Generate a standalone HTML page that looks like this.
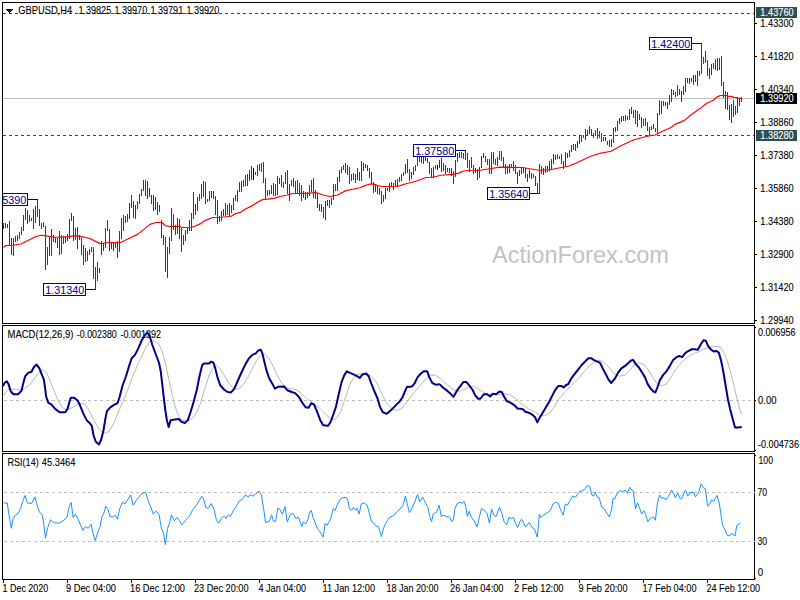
<!DOCTYPE html>
<html><head><meta charset="utf-8"><title>GBPUSD H4</title>
<style>html,body{margin:0;padding:0;background:#fff;}svg{display:block;}text{font-family:"Liberation Sans", sans-serif;}</style></head><body>
<svg width="800" height="600" viewBox="0 0 800 600">
<rect x="0" y="0" width="800" height="600" fill="#fff"/>
<text x="492" y="262.5" font-size="23.5" fill="#c2c2c2" textLength="177" lengthAdjust="spacingAndGlyphs">ActionForex.com</text>
<g shape-rendering="crispEdges" fill="#000">
<rect x="2" y="2" width="753" height="1"/>
<rect x="2" y="323" width="753" height="1"/>
<rect x="2" y="2" width="1" height="322"/>
<rect x="754" y="2" width="1" height="322"/>
<rect x="2" y="325" width="753" height="1"/>
<rect x="2" y="451" width="753" height="1"/>
<rect x="2" y="325" width="1" height="127"/>
<rect x="754" y="325" width="1" height="127"/>
<rect x="2" y="453" width="753" height="1"/>
<rect x="2" y="579" width="753" height="1"/>
<rect x="2" y="453" width="1" height="127"/>
<rect x="754" y="453" width="1" height="127"/>
<rect x="755" y="23" width="2" height="1"/>
<rect x="755" y="56" width="2" height="1"/>
<rect x="755" y="89" width="2" height="1"/>
<rect x="755" y="122" width="2" height="1"/>
<rect x="755" y="155" width="2" height="1"/>
<rect x="755" y="188" width="2" height="1"/>
<rect x="755" y="221" width="2" height="1"/>
<rect x="755" y="254" width="2" height="1"/>
<rect x="755" y="287" width="2" height="1"/>
<rect x="755" y="320" width="2" height="1"/>
<rect x="755" y="327" width="1" height="1"/>
<rect x="755" y="400" width="1" height="1"/>
<rect x="755" y="450" width="1" height="1"/>
<rect x="755" y="455" width="1" height="1"/>
<rect x="755" y="578" width="1" height="1"/>
<rect x="3" y="580" width="1" height="3"/>
<rect x="67" y="580" width="1" height="3"/>
<rect x="131" y="580" width="1" height="3"/>
<rect x="195" y="580" width="1" height="3"/>
<rect x="259" y="580" width="1" height="3"/>
<rect x="323" y="580" width="1" height="3"/>
<rect x="387" y="580" width="1" height="3"/>
<rect x="451" y="580" width="1" height="3"/>
<rect x="515" y="580" width="1" height="3"/>
<rect x="579" y="580" width="1" height="3"/>
<rect x="643" y="580" width="1" height="3"/>
<rect x="707" y="580" width="1" height="3"/>
</g>
<g shape-rendering="crispEdges">
<rect x="3" y="98" width="751" height="1" fill="#c0c0c0"/>
<rect x="3" y="13" width="3" height="1" fill="#2f4f4f"/><rect x="9" y="13" width="3" height="1" fill="#2f4f4f"/><rect x="15" y="13" width="3" height="1" fill="#2f4f4f"/><rect x="21" y="13" width="3" height="1" fill="#2f4f4f"/><rect x="27" y="13" width="3" height="1" fill="#2f4f4f"/><rect x="33" y="13" width="3" height="1" fill="#2f4f4f"/><rect x="39" y="13" width="3" height="1" fill="#2f4f4f"/><rect x="45" y="13" width="3" height="1" fill="#2f4f4f"/><rect x="51" y="13" width="3" height="1" fill="#2f4f4f"/><rect x="57" y="13" width="3" height="1" fill="#2f4f4f"/><rect x="63" y="13" width="3" height="1" fill="#2f4f4f"/><rect x="69" y="13" width="3" height="1" fill="#2f4f4f"/><rect x="75" y="13" width="3" height="1" fill="#2f4f4f"/><rect x="81" y="13" width="3" height="1" fill="#2f4f4f"/><rect x="87" y="13" width="3" height="1" fill="#2f4f4f"/><rect x="93" y="13" width="3" height="1" fill="#2f4f4f"/><rect x="99" y="13" width="3" height="1" fill="#2f4f4f"/><rect x="105" y="13" width="3" height="1" fill="#2f4f4f"/><rect x="111" y="13" width="3" height="1" fill="#2f4f4f"/><rect x="117" y="13" width="3" height="1" fill="#2f4f4f"/><rect x="123" y="13" width="3" height="1" fill="#2f4f4f"/><rect x="129" y="13" width="3" height="1" fill="#2f4f4f"/><rect x="135" y="13" width="3" height="1" fill="#2f4f4f"/><rect x="141" y="13" width="3" height="1" fill="#2f4f4f"/><rect x="147" y="13" width="3" height="1" fill="#2f4f4f"/><rect x="153" y="13" width="3" height="1" fill="#2f4f4f"/><rect x="159" y="13" width="3" height="1" fill="#2f4f4f"/><rect x="165" y="13" width="3" height="1" fill="#2f4f4f"/><rect x="171" y="13" width="3" height="1" fill="#2f4f4f"/><rect x="177" y="13" width="3" height="1" fill="#2f4f4f"/><rect x="183" y="13" width="3" height="1" fill="#2f4f4f"/><rect x="189" y="13" width="3" height="1" fill="#2f4f4f"/><rect x="195" y="13" width="3" height="1" fill="#2f4f4f"/><rect x="201" y="13" width="3" height="1" fill="#2f4f4f"/><rect x="207" y="13" width="3" height="1" fill="#2f4f4f"/><rect x="213" y="13" width="3" height="1" fill="#2f4f4f"/><rect x="219" y="13" width="3" height="1" fill="#2f4f4f"/><rect x="225" y="13" width="3" height="1" fill="#2f4f4f"/><rect x="231" y="13" width="3" height="1" fill="#2f4f4f"/><rect x="237" y="13" width="3" height="1" fill="#2f4f4f"/><rect x="243" y="13" width="3" height="1" fill="#2f4f4f"/><rect x="249" y="13" width="3" height="1" fill="#2f4f4f"/><rect x="255" y="13" width="3" height="1" fill="#2f4f4f"/><rect x="261" y="13" width="3" height="1" fill="#2f4f4f"/><rect x="267" y="13" width="3" height="1" fill="#2f4f4f"/><rect x="273" y="13" width="3" height="1" fill="#2f4f4f"/><rect x="279" y="13" width="3" height="1" fill="#2f4f4f"/><rect x="285" y="13" width="3" height="1" fill="#2f4f4f"/><rect x="291" y="13" width="3" height="1" fill="#2f4f4f"/><rect x="297" y="13" width="3" height="1" fill="#2f4f4f"/><rect x="303" y="13" width="3" height="1" fill="#2f4f4f"/><rect x="309" y="13" width="3" height="1" fill="#2f4f4f"/><rect x="315" y="13" width="3" height="1" fill="#2f4f4f"/><rect x="321" y="13" width="3" height="1" fill="#2f4f4f"/><rect x="327" y="13" width="3" height="1" fill="#2f4f4f"/><rect x="333" y="13" width="3" height="1" fill="#2f4f4f"/><rect x="339" y="13" width="3" height="1" fill="#2f4f4f"/><rect x="345" y="13" width="3" height="1" fill="#2f4f4f"/><rect x="351" y="13" width="3" height="1" fill="#2f4f4f"/><rect x="357" y="13" width="3" height="1" fill="#2f4f4f"/><rect x="363" y="13" width="3" height="1" fill="#2f4f4f"/><rect x="369" y="13" width="3" height="1" fill="#2f4f4f"/><rect x="375" y="13" width="3" height="1" fill="#2f4f4f"/><rect x="381" y="13" width="3" height="1" fill="#2f4f4f"/><rect x="387" y="13" width="3" height="1" fill="#2f4f4f"/><rect x="393" y="13" width="3" height="1" fill="#2f4f4f"/><rect x="399" y="13" width="3" height="1" fill="#2f4f4f"/><rect x="405" y="13" width="3" height="1" fill="#2f4f4f"/><rect x="411" y="13" width="3" height="1" fill="#2f4f4f"/><rect x="417" y="13" width="3" height="1" fill="#2f4f4f"/><rect x="423" y="13" width="3" height="1" fill="#2f4f4f"/><rect x="429" y="13" width="3" height="1" fill="#2f4f4f"/><rect x="435" y="13" width="3" height="1" fill="#2f4f4f"/><rect x="441" y="13" width="3" height="1" fill="#2f4f4f"/><rect x="447" y="13" width="3" height="1" fill="#2f4f4f"/><rect x="453" y="13" width="3" height="1" fill="#2f4f4f"/><rect x="459" y="13" width="3" height="1" fill="#2f4f4f"/><rect x="465" y="13" width="3" height="1" fill="#2f4f4f"/><rect x="471" y="13" width="3" height="1" fill="#2f4f4f"/><rect x="477" y="13" width="3" height="1" fill="#2f4f4f"/><rect x="483" y="13" width="3" height="1" fill="#2f4f4f"/><rect x="489" y="13" width="3" height="1" fill="#2f4f4f"/><rect x="495" y="13" width="3" height="1" fill="#2f4f4f"/><rect x="501" y="13" width="3" height="1" fill="#2f4f4f"/><rect x="507" y="13" width="3" height="1" fill="#2f4f4f"/><rect x="513" y="13" width="3" height="1" fill="#2f4f4f"/><rect x="519" y="13" width="3" height="1" fill="#2f4f4f"/><rect x="525" y="13" width="3" height="1" fill="#2f4f4f"/><rect x="531" y="13" width="3" height="1" fill="#2f4f4f"/><rect x="537" y="13" width="3" height="1" fill="#2f4f4f"/><rect x="543" y="13" width="3" height="1" fill="#2f4f4f"/><rect x="549" y="13" width="3" height="1" fill="#2f4f4f"/><rect x="555" y="13" width="3" height="1" fill="#2f4f4f"/><rect x="561" y="13" width="3" height="1" fill="#2f4f4f"/><rect x="567" y="13" width="3" height="1" fill="#2f4f4f"/><rect x="573" y="13" width="3" height="1" fill="#2f4f4f"/><rect x="579" y="13" width="3" height="1" fill="#2f4f4f"/><rect x="585" y="13" width="3" height="1" fill="#2f4f4f"/><rect x="591" y="13" width="3" height="1" fill="#2f4f4f"/><rect x="597" y="13" width="3" height="1" fill="#2f4f4f"/><rect x="603" y="13" width="3" height="1" fill="#2f4f4f"/><rect x="609" y="13" width="3" height="1" fill="#2f4f4f"/><rect x="615" y="13" width="3" height="1" fill="#2f4f4f"/><rect x="621" y="13" width="3" height="1" fill="#2f4f4f"/><rect x="627" y="13" width="3" height="1" fill="#2f4f4f"/><rect x="633" y="13" width="3" height="1" fill="#2f4f4f"/><rect x="639" y="13" width="3" height="1" fill="#2f4f4f"/><rect x="645" y="13" width="3" height="1" fill="#2f4f4f"/><rect x="651" y="13" width="3" height="1" fill="#2f4f4f"/><rect x="657" y="13" width="3" height="1" fill="#2f4f4f"/><rect x="663" y="13" width="3" height="1" fill="#2f4f4f"/><rect x="669" y="13" width="3" height="1" fill="#2f4f4f"/><rect x="675" y="13" width="3" height="1" fill="#2f4f4f"/><rect x="681" y="13" width="3" height="1" fill="#2f4f4f"/><rect x="687" y="13" width="3" height="1" fill="#2f4f4f"/><rect x="693" y="13" width="3" height="1" fill="#2f4f4f"/><rect x="699" y="13" width="3" height="1" fill="#2f4f4f"/><rect x="705" y="13" width="3" height="1" fill="#2f4f4f"/><rect x="711" y="13" width="3" height="1" fill="#2f4f4f"/><rect x="717" y="13" width="3" height="1" fill="#2f4f4f"/><rect x="723" y="13" width="3" height="1" fill="#2f4f4f"/><rect x="729" y="13" width="3" height="1" fill="#2f4f4f"/><rect x="735" y="13" width="3" height="1" fill="#2f4f4f"/><rect x="741" y="13" width="3" height="1" fill="#2f4f4f"/><rect x="747" y="13" width="3" height="1" fill="#2f4f4f"/><rect x="753" y="13" width="1" height="1" fill="#2f4f4f"/>
<rect x="3" y="135" width="3" height="1" fill="#2f4f4f"/><rect x="9" y="135" width="3" height="1" fill="#2f4f4f"/><rect x="15" y="135" width="3" height="1" fill="#2f4f4f"/><rect x="21" y="135" width="3" height="1" fill="#2f4f4f"/><rect x="27" y="135" width="3" height="1" fill="#2f4f4f"/><rect x="33" y="135" width="3" height="1" fill="#2f4f4f"/><rect x="39" y="135" width="3" height="1" fill="#2f4f4f"/><rect x="45" y="135" width="3" height="1" fill="#2f4f4f"/><rect x="51" y="135" width="3" height="1" fill="#2f4f4f"/><rect x="57" y="135" width="3" height="1" fill="#2f4f4f"/><rect x="63" y="135" width="3" height="1" fill="#2f4f4f"/><rect x="69" y="135" width="3" height="1" fill="#2f4f4f"/><rect x="75" y="135" width="3" height="1" fill="#2f4f4f"/><rect x="81" y="135" width="3" height="1" fill="#2f4f4f"/><rect x="87" y="135" width="3" height="1" fill="#2f4f4f"/><rect x="93" y="135" width="3" height="1" fill="#2f4f4f"/><rect x="99" y="135" width="3" height="1" fill="#2f4f4f"/><rect x="105" y="135" width="3" height="1" fill="#2f4f4f"/><rect x="111" y="135" width="3" height="1" fill="#2f4f4f"/><rect x="117" y="135" width="3" height="1" fill="#2f4f4f"/><rect x="123" y="135" width="3" height="1" fill="#2f4f4f"/><rect x="129" y="135" width="3" height="1" fill="#2f4f4f"/><rect x="135" y="135" width="3" height="1" fill="#2f4f4f"/><rect x="141" y="135" width="3" height="1" fill="#2f4f4f"/><rect x="147" y="135" width="3" height="1" fill="#2f4f4f"/><rect x="153" y="135" width="3" height="1" fill="#2f4f4f"/><rect x="159" y="135" width="3" height="1" fill="#2f4f4f"/><rect x="165" y="135" width="3" height="1" fill="#2f4f4f"/><rect x="171" y="135" width="3" height="1" fill="#2f4f4f"/><rect x="177" y="135" width="3" height="1" fill="#2f4f4f"/><rect x="183" y="135" width="3" height="1" fill="#2f4f4f"/><rect x="189" y="135" width="3" height="1" fill="#2f4f4f"/><rect x="195" y="135" width="3" height="1" fill="#2f4f4f"/><rect x="201" y="135" width="3" height="1" fill="#2f4f4f"/><rect x="207" y="135" width="3" height="1" fill="#2f4f4f"/><rect x="213" y="135" width="3" height="1" fill="#2f4f4f"/><rect x="219" y="135" width="3" height="1" fill="#2f4f4f"/><rect x="225" y="135" width="3" height="1" fill="#2f4f4f"/><rect x="231" y="135" width="3" height="1" fill="#2f4f4f"/><rect x="237" y="135" width="3" height="1" fill="#2f4f4f"/><rect x="243" y="135" width="3" height="1" fill="#2f4f4f"/><rect x="249" y="135" width="3" height="1" fill="#2f4f4f"/><rect x="255" y="135" width="3" height="1" fill="#2f4f4f"/><rect x="261" y="135" width="3" height="1" fill="#2f4f4f"/><rect x="267" y="135" width="3" height="1" fill="#2f4f4f"/><rect x="273" y="135" width="3" height="1" fill="#2f4f4f"/><rect x="279" y="135" width="3" height="1" fill="#2f4f4f"/><rect x="285" y="135" width="3" height="1" fill="#2f4f4f"/><rect x="291" y="135" width="3" height="1" fill="#2f4f4f"/><rect x="297" y="135" width="3" height="1" fill="#2f4f4f"/><rect x="303" y="135" width="3" height="1" fill="#2f4f4f"/><rect x="309" y="135" width="3" height="1" fill="#2f4f4f"/><rect x="315" y="135" width="3" height="1" fill="#2f4f4f"/><rect x="321" y="135" width="3" height="1" fill="#2f4f4f"/><rect x="327" y="135" width="3" height="1" fill="#2f4f4f"/><rect x="333" y="135" width="3" height="1" fill="#2f4f4f"/><rect x="339" y="135" width="3" height="1" fill="#2f4f4f"/><rect x="345" y="135" width="3" height="1" fill="#2f4f4f"/><rect x="351" y="135" width="3" height="1" fill="#2f4f4f"/><rect x="357" y="135" width="3" height="1" fill="#2f4f4f"/><rect x="363" y="135" width="3" height="1" fill="#2f4f4f"/><rect x="369" y="135" width="3" height="1" fill="#2f4f4f"/><rect x="375" y="135" width="3" height="1" fill="#2f4f4f"/><rect x="381" y="135" width="3" height="1" fill="#2f4f4f"/><rect x="387" y="135" width="3" height="1" fill="#2f4f4f"/><rect x="393" y="135" width="3" height="1" fill="#2f4f4f"/><rect x="399" y="135" width="3" height="1" fill="#2f4f4f"/><rect x="405" y="135" width="3" height="1" fill="#2f4f4f"/><rect x="411" y="135" width="3" height="1" fill="#2f4f4f"/><rect x="417" y="135" width="3" height="1" fill="#2f4f4f"/><rect x="423" y="135" width="3" height="1" fill="#2f4f4f"/><rect x="429" y="135" width="3" height="1" fill="#2f4f4f"/><rect x="435" y="135" width="3" height="1" fill="#2f4f4f"/><rect x="441" y="135" width="3" height="1" fill="#2f4f4f"/><rect x="447" y="135" width="3" height="1" fill="#2f4f4f"/><rect x="453" y="135" width="3" height="1" fill="#2f4f4f"/><rect x="459" y="135" width="3" height="1" fill="#2f4f4f"/><rect x="465" y="135" width="3" height="1" fill="#2f4f4f"/><rect x="471" y="135" width="3" height="1" fill="#2f4f4f"/><rect x="477" y="135" width="3" height="1" fill="#2f4f4f"/><rect x="483" y="135" width="3" height="1" fill="#2f4f4f"/><rect x="489" y="135" width="3" height="1" fill="#2f4f4f"/><rect x="495" y="135" width="3" height="1" fill="#2f4f4f"/><rect x="501" y="135" width="3" height="1" fill="#2f4f4f"/><rect x="507" y="135" width="3" height="1" fill="#2f4f4f"/><rect x="513" y="135" width="3" height="1" fill="#2f4f4f"/><rect x="519" y="135" width="3" height="1" fill="#2f4f4f"/><rect x="525" y="135" width="3" height="1" fill="#2f4f4f"/><rect x="531" y="135" width="3" height="1" fill="#2f4f4f"/><rect x="537" y="135" width="3" height="1" fill="#2f4f4f"/><rect x="543" y="135" width="3" height="1" fill="#2f4f4f"/><rect x="549" y="135" width="3" height="1" fill="#2f4f4f"/><rect x="555" y="135" width="3" height="1" fill="#2f4f4f"/><rect x="561" y="135" width="3" height="1" fill="#2f4f4f"/><rect x="567" y="135" width="3" height="1" fill="#2f4f4f"/><rect x="573" y="135" width="3" height="1" fill="#2f4f4f"/><rect x="579" y="135" width="3" height="1" fill="#2f4f4f"/><rect x="585" y="135" width="3" height="1" fill="#2f4f4f"/><rect x="591" y="135" width="3" height="1" fill="#2f4f4f"/><rect x="597" y="135" width="3" height="1" fill="#2f4f4f"/><rect x="603" y="135" width="3" height="1" fill="#2f4f4f"/><rect x="609" y="135" width="3" height="1" fill="#2f4f4f"/><rect x="615" y="135" width="3" height="1" fill="#2f4f4f"/><rect x="621" y="135" width="3" height="1" fill="#2f4f4f"/><rect x="627" y="135" width="3" height="1" fill="#2f4f4f"/><rect x="633" y="135" width="3" height="1" fill="#2f4f4f"/><rect x="639" y="135" width="3" height="1" fill="#2f4f4f"/><rect x="645" y="135" width="3" height="1" fill="#2f4f4f"/><rect x="651" y="135" width="3" height="1" fill="#2f4f4f"/><rect x="657" y="135" width="3" height="1" fill="#2f4f4f"/><rect x="663" y="135" width="3" height="1" fill="#2f4f4f"/><rect x="669" y="135" width="3" height="1" fill="#2f4f4f"/><rect x="675" y="135" width="3" height="1" fill="#2f4f4f"/><rect x="681" y="135" width="3" height="1" fill="#2f4f4f"/><rect x="687" y="135" width="3" height="1" fill="#2f4f4f"/><rect x="693" y="135" width="3" height="1" fill="#2f4f4f"/><rect x="699" y="135" width="3" height="1" fill="#2f4f4f"/><rect x="705" y="135" width="3" height="1" fill="#2f4f4f"/><rect x="711" y="135" width="3" height="1" fill="#2f4f4f"/><rect x="717" y="135" width="3" height="1" fill="#2f4f4f"/><rect x="723" y="135" width="3" height="1" fill="#2f4f4f"/><rect x="729" y="135" width="3" height="1" fill="#2f4f4f"/><rect x="735" y="135" width="3" height="1" fill="#2f4f4f"/><rect x="741" y="135" width="3" height="1" fill="#2f4f4f"/><rect x="747" y="135" width="3" height="1" fill="#2f4f4f"/><rect x="753" y="135" width="1" height="1" fill="#2f4f4f"/>
<rect x="4" y="400" width="3" height="1" fill="#c0c0c0"/><rect x="10" y="400" width="3" height="1" fill="#c0c0c0"/><rect x="16" y="400" width="3" height="1" fill="#c0c0c0"/><rect x="22" y="400" width="3" height="1" fill="#c0c0c0"/><rect x="28" y="400" width="3" height="1" fill="#c0c0c0"/><rect x="34" y="400" width="3" height="1" fill="#c0c0c0"/><rect x="40" y="400" width="3" height="1" fill="#c0c0c0"/><rect x="46" y="400" width="3" height="1" fill="#c0c0c0"/><rect x="52" y="400" width="3" height="1" fill="#c0c0c0"/><rect x="58" y="400" width="3" height="1" fill="#c0c0c0"/><rect x="64" y="400" width="3" height="1" fill="#c0c0c0"/><rect x="70" y="400" width="3" height="1" fill="#c0c0c0"/><rect x="76" y="400" width="3" height="1" fill="#c0c0c0"/><rect x="82" y="400" width="3" height="1" fill="#c0c0c0"/><rect x="88" y="400" width="3" height="1" fill="#c0c0c0"/><rect x="94" y="400" width="3" height="1" fill="#c0c0c0"/><rect x="100" y="400" width="3" height="1" fill="#c0c0c0"/><rect x="106" y="400" width="3" height="1" fill="#c0c0c0"/><rect x="112" y="400" width="3" height="1" fill="#c0c0c0"/><rect x="118" y="400" width="3" height="1" fill="#c0c0c0"/><rect x="124" y="400" width="3" height="1" fill="#c0c0c0"/><rect x="130" y="400" width="3" height="1" fill="#c0c0c0"/><rect x="136" y="400" width="3" height="1" fill="#c0c0c0"/><rect x="142" y="400" width="3" height="1" fill="#c0c0c0"/><rect x="148" y="400" width="3" height="1" fill="#c0c0c0"/><rect x="154" y="400" width="3" height="1" fill="#c0c0c0"/><rect x="160" y="400" width="3" height="1" fill="#c0c0c0"/><rect x="166" y="400" width="3" height="1" fill="#c0c0c0"/><rect x="172" y="400" width="3" height="1" fill="#c0c0c0"/><rect x="178" y="400" width="3" height="1" fill="#c0c0c0"/><rect x="184" y="400" width="3" height="1" fill="#c0c0c0"/><rect x="190" y="400" width="3" height="1" fill="#c0c0c0"/><rect x="196" y="400" width="3" height="1" fill="#c0c0c0"/><rect x="202" y="400" width="3" height="1" fill="#c0c0c0"/><rect x="208" y="400" width="3" height="1" fill="#c0c0c0"/><rect x="214" y="400" width="3" height="1" fill="#c0c0c0"/><rect x="220" y="400" width="3" height="1" fill="#c0c0c0"/><rect x="226" y="400" width="3" height="1" fill="#c0c0c0"/><rect x="232" y="400" width="3" height="1" fill="#c0c0c0"/><rect x="238" y="400" width="3" height="1" fill="#c0c0c0"/><rect x="244" y="400" width="3" height="1" fill="#c0c0c0"/><rect x="250" y="400" width="3" height="1" fill="#c0c0c0"/><rect x="256" y="400" width="3" height="1" fill="#c0c0c0"/><rect x="262" y="400" width="3" height="1" fill="#c0c0c0"/><rect x="268" y="400" width="3" height="1" fill="#c0c0c0"/><rect x="274" y="400" width="3" height="1" fill="#c0c0c0"/><rect x="280" y="400" width="3" height="1" fill="#c0c0c0"/><rect x="286" y="400" width="3" height="1" fill="#c0c0c0"/><rect x="292" y="400" width="3" height="1" fill="#c0c0c0"/><rect x="298" y="400" width="3" height="1" fill="#c0c0c0"/><rect x="304" y="400" width="3" height="1" fill="#c0c0c0"/><rect x="310" y="400" width="3" height="1" fill="#c0c0c0"/><rect x="316" y="400" width="3" height="1" fill="#c0c0c0"/><rect x="322" y="400" width="3" height="1" fill="#c0c0c0"/><rect x="328" y="400" width="3" height="1" fill="#c0c0c0"/><rect x="334" y="400" width="3" height="1" fill="#c0c0c0"/><rect x="340" y="400" width="3" height="1" fill="#c0c0c0"/><rect x="346" y="400" width="3" height="1" fill="#c0c0c0"/><rect x="352" y="400" width="3" height="1" fill="#c0c0c0"/><rect x="358" y="400" width="3" height="1" fill="#c0c0c0"/><rect x="364" y="400" width="3" height="1" fill="#c0c0c0"/><rect x="370" y="400" width="3" height="1" fill="#c0c0c0"/><rect x="376" y="400" width="3" height="1" fill="#c0c0c0"/><rect x="382" y="400" width="3" height="1" fill="#c0c0c0"/><rect x="388" y="400" width="3" height="1" fill="#c0c0c0"/><rect x="394" y="400" width="3" height="1" fill="#c0c0c0"/><rect x="400" y="400" width="3" height="1" fill="#c0c0c0"/><rect x="406" y="400" width="3" height="1" fill="#c0c0c0"/><rect x="412" y="400" width="3" height="1" fill="#c0c0c0"/><rect x="418" y="400" width="3" height="1" fill="#c0c0c0"/><rect x="424" y="400" width="3" height="1" fill="#c0c0c0"/><rect x="430" y="400" width="3" height="1" fill="#c0c0c0"/><rect x="436" y="400" width="3" height="1" fill="#c0c0c0"/><rect x="442" y="400" width="3" height="1" fill="#c0c0c0"/><rect x="448" y="400" width="3" height="1" fill="#c0c0c0"/><rect x="454" y="400" width="3" height="1" fill="#c0c0c0"/><rect x="460" y="400" width="3" height="1" fill="#c0c0c0"/><rect x="466" y="400" width="3" height="1" fill="#c0c0c0"/><rect x="472" y="400" width="3" height="1" fill="#c0c0c0"/><rect x="478" y="400" width="3" height="1" fill="#c0c0c0"/><rect x="484" y="400" width="3" height="1" fill="#c0c0c0"/><rect x="490" y="400" width="3" height="1" fill="#c0c0c0"/><rect x="496" y="400" width="3" height="1" fill="#c0c0c0"/><rect x="502" y="400" width="3" height="1" fill="#c0c0c0"/><rect x="508" y="400" width="3" height="1" fill="#c0c0c0"/><rect x="514" y="400" width="3" height="1" fill="#c0c0c0"/><rect x="520" y="400" width="3" height="1" fill="#c0c0c0"/><rect x="526" y="400" width="3" height="1" fill="#c0c0c0"/><rect x="532" y="400" width="3" height="1" fill="#c0c0c0"/><rect x="538" y="400" width="3" height="1" fill="#c0c0c0"/><rect x="544" y="400" width="3" height="1" fill="#c0c0c0"/><rect x="550" y="400" width="3" height="1" fill="#c0c0c0"/><rect x="556" y="400" width="3" height="1" fill="#c0c0c0"/><rect x="562" y="400" width="3" height="1" fill="#c0c0c0"/><rect x="568" y="400" width="3" height="1" fill="#c0c0c0"/><rect x="574" y="400" width="3" height="1" fill="#c0c0c0"/><rect x="580" y="400" width="3" height="1" fill="#c0c0c0"/><rect x="586" y="400" width="3" height="1" fill="#c0c0c0"/><rect x="592" y="400" width="3" height="1" fill="#c0c0c0"/><rect x="598" y="400" width="3" height="1" fill="#c0c0c0"/><rect x="604" y="400" width="3" height="1" fill="#c0c0c0"/><rect x="610" y="400" width="3" height="1" fill="#c0c0c0"/><rect x="616" y="400" width="3" height="1" fill="#c0c0c0"/><rect x="622" y="400" width="3" height="1" fill="#c0c0c0"/><rect x="628" y="400" width="3" height="1" fill="#c0c0c0"/><rect x="634" y="400" width="3" height="1" fill="#c0c0c0"/><rect x="640" y="400" width="3" height="1" fill="#c0c0c0"/><rect x="646" y="400" width="3" height="1" fill="#c0c0c0"/><rect x="652" y="400" width="3" height="1" fill="#c0c0c0"/><rect x="658" y="400" width="3" height="1" fill="#c0c0c0"/><rect x="664" y="400" width="3" height="1" fill="#c0c0c0"/><rect x="670" y="400" width="3" height="1" fill="#c0c0c0"/><rect x="676" y="400" width="3" height="1" fill="#c0c0c0"/><rect x="682" y="400" width="3" height="1" fill="#c0c0c0"/><rect x="688" y="400" width="3" height="1" fill="#c0c0c0"/><rect x="694" y="400" width="3" height="1" fill="#c0c0c0"/><rect x="700" y="400" width="3" height="1" fill="#c0c0c0"/><rect x="706" y="400" width="3" height="1" fill="#c0c0c0"/><rect x="712" y="400" width="3" height="1" fill="#c0c0c0"/><rect x="718" y="400" width="3" height="1" fill="#c0c0c0"/><rect x="724" y="400" width="3" height="1" fill="#c0c0c0"/><rect x="730" y="400" width="3" height="1" fill="#c0c0c0"/><rect x="736" y="400" width="3" height="1" fill="#c0c0c0"/><rect x="742" y="400" width="3" height="1" fill="#c0c0c0"/><rect x="748" y="400" width="3" height="1" fill="#c0c0c0"/>
<rect x="4" y="492" width="3" height="1" fill="#c0c0c0"/><rect x="10" y="492" width="3" height="1" fill="#c0c0c0"/><rect x="16" y="492" width="3" height="1" fill="#c0c0c0"/><rect x="22" y="492" width="3" height="1" fill="#c0c0c0"/><rect x="28" y="492" width="3" height="1" fill="#c0c0c0"/><rect x="34" y="492" width="3" height="1" fill="#c0c0c0"/><rect x="40" y="492" width="3" height="1" fill="#c0c0c0"/><rect x="46" y="492" width="3" height="1" fill="#c0c0c0"/><rect x="52" y="492" width="3" height="1" fill="#c0c0c0"/><rect x="58" y="492" width="3" height="1" fill="#c0c0c0"/><rect x="64" y="492" width="3" height="1" fill="#c0c0c0"/><rect x="70" y="492" width="3" height="1" fill="#c0c0c0"/><rect x="76" y="492" width="3" height="1" fill="#c0c0c0"/><rect x="82" y="492" width="3" height="1" fill="#c0c0c0"/><rect x="88" y="492" width="3" height="1" fill="#c0c0c0"/><rect x="94" y="492" width="3" height="1" fill="#c0c0c0"/><rect x="100" y="492" width="3" height="1" fill="#c0c0c0"/><rect x="106" y="492" width="3" height="1" fill="#c0c0c0"/><rect x="112" y="492" width="3" height="1" fill="#c0c0c0"/><rect x="118" y="492" width="3" height="1" fill="#c0c0c0"/><rect x="124" y="492" width="3" height="1" fill="#c0c0c0"/><rect x="130" y="492" width="3" height="1" fill="#c0c0c0"/><rect x="136" y="492" width="3" height="1" fill="#c0c0c0"/><rect x="142" y="492" width="3" height="1" fill="#c0c0c0"/><rect x="148" y="492" width="3" height="1" fill="#c0c0c0"/><rect x="154" y="492" width="3" height="1" fill="#c0c0c0"/><rect x="160" y="492" width="3" height="1" fill="#c0c0c0"/><rect x="166" y="492" width="3" height="1" fill="#c0c0c0"/><rect x="172" y="492" width="3" height="1" fill="#c0c0c0"/><rect x="178" y="492" width="3" height="1" fill="#c0c0c0"/><rect x="184" y="492" width="3" height="1" fill="#c0c0c0"/><rect x="190" y="492" width="3" height="1" fill="#c0c0c0"/><rect x="196" y="492" width="3" height="1" fill="#c0c0c0"/><rect x="202" y="492" width="3" height="1" fill="#c0c0c0"/><rect x="208" y="492" width="3" height="1" fill="#c0c0c0"/><rect x="214" y="492" width="3" height="1" fill="#c0c0c0"/><rect x="220" y="492" width="3" height="1" fill="#c0c0c0"/><rect x="226" y="492" width="3" height="1" fill="#c0c0c0"/><rect x="232" y="492" width="3" height="1" fill="#c0c0c0"/><rect x="238" y="492" width="3" height="1" fill="#c0c0c0"/><rect x="244" y="492" width="3" height="1" fill="#c0c0c0"/><rect x="250" y="492" width="3" height="1" fill="#c0c0c0"/><rect x="256" y="492" width="3" height="1" fill="#c0c0c0"/><rect x="262" y="492" width="3" height="1" fill="#c0c0c0"/><rect x="268" y="492" width="3" height="1" fill="#c0c0c0"/><rect x="274" y="492" width="3" height="1" fill="#c0c0c0"/><rect x="280" y="492" width="3" height="1" fill="#c0c0c0"/><rect x="286" y="492" width="3" height="1" fill="#c0c0c0"/><rect x="292" y="492" width="3" height="1" fill="#c0c0c0"/><rect x="298" y="492" width="3" height="1" fill="#c0c0c0"/><rect x="304" y="492" width="3" height="1" fill="#c0c0c0"/><rect x="310" y="492" width="3" height="1" fill="#c0c0c0"/><rect x="316" y="492" width="3" height="1" fill="#c0c0c0"/><rect x="322" y="492" width="3" height="1" fill="#c0c0c0"/><rect x="328" y="492" width="3" height="1" fill="#c0c0c0"/><rect x="334" y="492" width="3" height="1" fill="#c0c0c0"/><rect x="340" y="492" width="3" height="1" fill="#c0c0c0"/><rect x="346" y="492" width="3" height="1" fill="#c0c0c0"/><rect x="352" y="492" width="3" height="1" fill="#c0c0c0"/><rect x="358" y="492" width="3" height="1" fill="#c0c0c0"/><rect x="364" y="492" width="3" height="1" fill="#c0c0c0"/><rect x="370" y="492" width="3" height="1" fill="#c0c0c0"/><rect x="376" y="492" width="3" height="1" fill="#c0c0c0"/><rect x="382" y="492" width="3" height="1" fill="#c0c0c0"/><rect x="388" y="492" width="3" height="1" fill="#c0c0c0"/><rect x="394" y="492" width="3" height="1" fill="#c0c0c0"/><rect x="400" y="492" width="3" height="1" fill="#c0c0c0"/><rect x="406" y="492" width="3" height="1" fill="#c0c0c0"/><rect x="412" y="492" width="3" height="1" fill="#c0c0c0"/><rect x="418" y="492" width="3" height="1" fill="#c0c0c0"/><rect x="424" y="492" width="3" height="1" fill="#c0c0c0"/><rect x="430" y="492" width="3" height="1" fill="#c0c0c0"/><rect x="436" y="492" width="3" height="1" fill="#c0c0c0"/><rect x="442" y="492" width="3" height="1" fill="#c0c0c0"/><rect x="448" y="492" width="3" height="1" fill="#c0c0c0"/><rect x="454" y="492" width="3" height="1" fill="#c0c0c0"/><rect x="460" y="492" width="3" height="1" fill="#c0c0c0"/><rect x="466" y="492" width="3" height="1" fill="#c0c0c0"/><rect x="472" y="492" width="3" height="1" fill="#c0c0c0"/><rect x="478" y="492" width="3" height="1" fill="#c0c0c0"/><rect x="484" y="492" width="3" height="1" fill="#c0c0c0"/><rect x="490" y="492" width="3" height="1" fill="#c0c0c0"/><rect x="496" y="492" width="3" height="1" fill="#c0c0c0"/><rect x="502" y="492" width="3" height="1" fill="#c0c0c0"/><rect x="508" y="492" width="3" height="1" fill="#c0c0c0"/><rect x="514" y="492" width="3" height="1" fill="#c0c0c0"/><rect x="520" y="492" width="3" height="1" fill="#c0c0c0"/><rect x="526" y="492" width="3" height="1" fill="#c0c0c0"/><rect x="532" y="492" width="3" height="1" fill="#c0c0c0"/><rect x="538" y="492" width="3" height="1" fill="#c0c0c0"/><rect x="544" y="492" width="3" height="1" fill="#c0c0c0"/><rect x="550" y="492" width="3" height="1" fill="#c0c0c0"/><rect x="556" y="492" width="3" height="1" fill="#c0c0c0"/><rect x="562" y="492" width="3" height="1" fill="#c0c0c0"/><rect x="568" y="492" width="3" height="1" fill="#c0c0c0"/><rect x="574" y="492" width="3" height="1" fill="#c0c0c0"/><rect x="580" y="492" width="3" height="1" fill="#c0c0c0"/><rect x="586" y="492" width="3" height="1" fill="#c0c0c0"/><rect x="592" y="492" width="3" height="1" fill="#c0c0c0"/><rect x="598" y="492" width="3" height="1" fill="#c0c0c0"/><rect x="604" y="492" width="3" height="1" fill="#c0c0c0"/><rect x="610" y="492" width="3" height="1" fill="#c0c0c0"/><rect x="616" y="492" width="3" height="1" fill="#c0c0c0"/><rect x="622" y="492" width="3" height="1" fill="#c0c0c0"/><rect x="628" y="492" width="3" height="1" fill="#c0c0c0"/><rect x="634" y="492" width="3" height="1" fill="#c0c0c0"/><rect x="640" y="492" width="3" height="1" fill="#c0c0c0"/><rect x="646" y="492" width="3" height="1" fill="#c0c0c0"/><rect x="652" y="492" width="3" height="1" fill="#c0c0c0"/><rect x="658" y="492" width="3" height="1" fill="#c0c0c0"/><rect x="664" y="492" width="3" height="1" fill="#c0c0c0"/><rect x="670" y="492" width="3" height="1" fill="#c0c0c0"/><rect x="676" y="492" width="3" height="1" fill="#c0c0c0"/><rect x="682" y="492" width="3" height="1" fill="#c0c0c0"/><rect x="688" y="492" width="3" height="1" fill="#c0c0c0"/><rect x="694" y="492" width="3" height="1" fill="#c0c0c0"/><rect x="700" y="492" width="3" height="1" fill="#c0c0c0"/><rect x="706" y="492" width="3" height="1" fill="#c0c0c0"/><rect x="712" y="492" width="3" height="1" fill="#c0c0c0"/><rect x="718" y="492" width="3" height="1" fill="#c0c0c0"/><rect x="724" y="492" width="3" height="1" fill="#c0c0c0"/><rect x="730" y="492" width="3" height="1" fill="#c0c0c0"/><rect x="736" y="492" width="3" height="1" fill="#c0c0c0"/><rect x="742" y="492" width="3" height="1" fill="#c0c0c0"/><rect x="748" y="492" width="3" height="1" fill="#c0c0c0"/><rect x="754" y="492" width="1" height="1" fill="#c0c0c0"/>
<rect x="4" y="541" width="3" height="1" fill="#c0c0c0"/><rect x="10" y="541" width="3" height="1" fill="#c0c0c0"/><rect x="16" y="541" width="3" height="1" fill="#c0c0c0"/><rect x="22" y="541" width="3" height="1" fill="#c0c0c0"/><rect x="28" y="541" width="3" height="1" fill="#c0c0c0"/><rect x="34" y="541" width="3" height="1" fill="#c0c0c0"/><rect x="40" y="541" width="3" height="1" fill="#c0c0c0"/><rect x="46" y="541" width="3" height="1" fill="#c0c0c0"/><rect x="52" y="541" width="3" height="1" fill="#c0c0c0"/><rect x="58" y="541" width="3" height="1" fill="#c0c0c0"/><rect x="64" y="541" width="3" height="1" fill="#c0c0c0"/><rect x="70" y="541" width="3" height="1" fill="#c0c0c0"/><rect x="76" y="541" width="3" height="1" fill="#c0c0c0"/><rect x="82" y="541" width="3" height="1" fill="#c0c0c0"/><rect x="88" y="541" width="3" height="1" fill="#c0c0c0"/><rect x="94" y="541" width="3" height="1" fill="#c0c0c0"/><rect x="100" y="541" width="3" height="1" fill="#c0c0c0"/><rect x="106" y="541" width="3" height="1" fill="#c0c0c0"/><rect x="112" y="541" width="3" height="1" fill="#c0c0c0"/><rect x="118" y="541" width="3" height="1" fill="#c0c0c0"/><rect x="124" y="541" width="3" height="1" fill="#c0c0c0"/><rect x="130" y="541" width="3" height="1" fill="#c0c0c0"/><rect x="136" y="541" width="3" height="1" fill="#c0c0c0"/><rect x="142" y="541" width="3" height="1" fill="#c0c0c0"/><rect x="148" y="541" width="3" height="1" fill="#c0c0c0"/><rect x="154" y="541" width="3" height="1" fill="#c0c0c0"/><rect x="160" y="541" width="3" height="1" fill="#c0c0c0"/><rect x="166" y="541" width="3" height="1" fill="#c0c0c0"/><rect x="172" y="541" width="3" height="1" fill="#c0c0c0"/><rect x="178" y="541" width="3" height="1" fill="#c0c0c0"/><rect x="184" y="541" width="3" height="1" fill="#c0c0c0"/><rect x="190" y="541" width="3" height="1" fill="#c0c0c0"/><rect x="196" y="541" width="3" height="1" fill="#c0c0c0"/><rect x="202" y="541" width="3" height="1" fill="#c0c0c0"/><rect x="208" y="541" width="3" height="1" fill="#c0c0c0"/><rect x="214" y="541" width="3" height="1" fill="#c0c0c0"/><rect x="220" y="541" width="3" height="1" fill="#c0c0c0"/><rect x="226" y="541" width="3" height="1" fill="#c0c0c0"/><rect x="232" y="541" width="3" height="1" fill="#c0c0c0"/><rect x="238" y="541" width="3" height="1" fill="#c0c0c0"/><rect x="244" y="541" width="3" height="1" fill="#c0c0c0"/><rect x="250" y="541" width="3" height="1" fill="#c0c0c0"/><rect x="256" y="541" width="3" height="1" fill="#c0c0c0"/><rect x="262" y="541" width="3" height="1" fill="#c0c0c0"/><rect x="268" y="541" width="3" height="1" fill="#c0c0c0"/><rect x="274" y="541" width="3" height="1" fill="#c0c0c0"/><rect x="280" y="541" width="3" height="1" fill="#c0c0c0"/><rect x="286" y="541" width="3" height="1" fill="#c0c0c0"/><rect x="292" y="541" width="3" height="1" fill="#c0c0c0"/><rect x="298" y="541" width="3" height="1" fill="#c0c0c0"/><rect x="304" y="541" width="3" height="1" fill="#c0c0c0"/><rect x="310" y="541" width="3" height="1" fill="#c0c0c0"/><rect x="316" y="541" width="3" height="1" fill="#c0c0c0"/><rect x="322" y="541" width="3" height="1" fill="#c0c0c0"/><rect x="328" y="541" width="3" height="1" fill="#c0c0c0"/><rect x="334" y="541" width="3" height="1" fill="#c0c0c0"/><rect x="340" y="541" width="3" height="1" fill="#c0c0c0"/><rect x="346" y="541" width="3" height="1" fill="#c0c0c0"/><rect x="352" y="541" width="3" height="1" fill="#c0c0c0"/><rect x="358" y="541" width="3" height="1" fill="#c0c0c0"/><rect x="364" y="541" width="3" height="1" fill="#c0c0c0"/><rect x="370" y="541" width="3" height="1" fill="#c0c0c0"/><rect x="376" y="541" width="3" height="1" fill="#c0c0c0"/><rect x="382" y="541" width="3" height="1" fill="#c0c0c0"/><rect x="388" y="541" width="3" height="1" fill="#c0c0c0"/><rect x="394" y="541" width="3" height="1" fill="#c0c0c0"/><rect x="400" y="541" width="3" height="1" fill="#c0c0c0"/><rect x="406" y="541" width="3" height="1" fill="#c0c0c0"/><rect x="412" y="541" width="3" height="1" fill="#c0c0c0"/><rect x="418" y="541" width="3" height="1" fill="#c0c0c0"/><rect x="424" y="541" width="3" height="1" fill="#c0c0c0"/><rect x="430" y="541" width="3" height="1" fill="#c0c0c0"/><rect x="436" y="541" width="3" height="1" fill="#c0c0c0"/><rect x="442" y="541" width="3" height="1" fill="#c0c0c0"/><rect x="448" y="541" width="3" height="1" fill="#c0c0c0"/><rect x="454" y="541" width="3" height="1" fill="#c0c0c0"/><rect x="460" y="541" width="3" height="1" fill="#c0c0c0"/><rect x="466" y="541" width="3" height="1" fill="#c0c0c0"/><rect x="472" y="541" width="3" height="1" fill="#c0c0c0"/><rect x="478" y="541" width="3" height="1" fill="#c0c0c0"/><rect x="484" y="541" width="3" height="1" fill="#c0c0c0"/><rect x="490" y="541" width="3" height="1" fill="#c0c0c0"/><rect x="496" y="541" width="3" height="1" fill="#c0c0c0"/><rect x="502" y="541" width="3" height="1" fill="#c0c0c0"/><rect x="508" y="541" width="3" height="1" fill="#c0c0c0"/><rect x="514" y="541" width="3" height="1" fill="#c0c0c0"/><rect x="520" y="541" width="3" height="1" fill="#c0c0c0"/><rect x="526" y="541" width="3" height="1" fill="#c0c0c0"/><rect x="532" y="541" width="3" height="1" fill="#c0c0c0"/><rect x="538" y="541" width="3" height="1" fill="#c0c0c0"/><rect x="544" y="541" width="3" height="1" fill="#c0c0c0"/><rect x="550" y="541" width="3" height="1" fill="#c0c0c0"/><rect x="556" y="541" width="3" height="1" fill="#c0c0c0"/><rect x="562" y="541" width="3" height="1" fill="#c0c0c0"/><rect x="568" y="541" width="3" height="1" fill="#c0c0c0"/><rect x="574" y="541" width="3" height="1" fill="#c0c0c0"/><rect x="580" y="541" width="3" height="1" fill="#c0c0c0"/><rect x="586" y="541" width="3" height="1" fill="#c0c0c0"/><rect x="592" y="541" width="3" height="1" fill="#c0c0c0"/><rect x="598" y="541" width="3" height="1" fill="#c0c0c0"/><rect x="604" y="541" width="3" height="1" fill="#c0c0c0"/><rect x="610" y="541" width="3" height="1" fill="#c0c0c0"/><rect x="616" y="541" width="3" height="1" fill="#c0c0c0"/><rect x="622" y="541" width="3" height="1" fill="#c0c0c0"/><rect x="628" y="541" width="3" height="1" fill="#c0c0c0"/><rect x="634" y="541" width="3" height="1" fill="#c0c0c0"/><rect x="640" y="541" width="3" height="1" fill="#c0c0c0"/><rect x="646" y="541" width="3" height="1" fill="#c0c0c0"/><rect x="652" y="541" width="3" height="1" fill="#c0c0c0"/><rect x="658" y="541" width="3" height="1" fill="#c0c0c0"/><rect x="664" y="541" width="3" height="1" fill="#c0c0c0"/><rect x="670" y="541" width="3" height="1" fill="#c0c0c0"/><rect x="676" y="541" width="3" height="1" fill="#c0c0c0"/><rect x="682" y="541" width="3" height="1" fill="#c0c0c0"/><rect x="688" y="541" width="3" height="1" fill="#c0c0c0"/><rect x="694" y="541" width="3" height="1" fill="#c0c0c0"/><rect x="700" y="541" width="3" height="1" fill="#c0c0c0"/><rect x="706" y="541" width="3" height="1" fill="#c0c0c0"/><rect x="712" y="541" width="3" height="1" fill="#c0c0c0"/><rect x="718" y="541" width="3" height="1" fill="#c0c0c0"/><rect x="724" y="541" width="3" height="1" fill="#c0c0c0"/><rect x="730" y="541" width="3" height="1" fill="#c0c0c0"/><rect x="736" y="541" width="3" height="1" fill="#c0c0c0"/><rect x="742" y="541" width="3" height="1" fill="#c0c0c0"/><rect x="748" y="541" width="3" height="1" fill="#c0c0c0"/><rect x="754" y="541" width="1" height="1" fill="#c0c0c0"/>
</g>
<g shape-rendering="crispEdges" fill="#104a64">
<rect x="3" y="223" width="1" height="6"/>
<rect x="5" y="223" width="1" height="5"/>
<rect x="7" y="224" width="1" height="4"/>
<rect x="9" y="221" width="1" height="25"/>
<rect x="11" y="238" width="1" height="17"/>
<rect x="13" y="238" width="1" height="18"/>
<rect x="15" y="236" width="1" height="6"/>
<rect x="17" y="235" width="1" height="6"/>
<rect x="19" y="232" width="1" height="7"/>
<rect x="21" y="227" width="1" height="8"/>
<rect x="23" y="215" width="1" height="16"/>
<rect x="25" y="208" width="1" height="12"/>
<rect x="27" y="210" width="1" height="14"/>
<rect x="29" y="215" width="1" height="7"/>
<rect x="31" y="218" width="1" height="3"/>
<rect x="33" y="209" width="1" height="20"/>
<rect x="35" y="206" width="1" height="17"/>
<rect x="37" y="199" width="1" height="18"/>
<rect x="39" y="209" width="1" height="17"/>
<rect x="41" y="223" width="1" height="6"/>
<rect x="43" y="222" width="1" height="5"/>
<rect x="45" y="226" width="1" height="44"/>
<rect x="47" y="247" width="1" height="18"/>
<rect x="49" y="237" width="1" height="19"/>
<rect x="51" y="229" width="1" height="27"/>
<rect x="53" y="235" width="1" height="7"/>
<rect x="55" y="237" width="1" height="6"/>
<rect x="57" y="238" width="1" height="10"/>
<rect x="59" y="231" width="1" height="24"/>
<rect x="61" y="235" width="1" height="19"/>
<rect x="63" y="236" width="1" height="8"/>
<rect x="65" y="236" width="1" height="7"/>
<rect x="67" y="234" width="1" height="7"/>
<rect x="69" y="219" width="1" height="20"/>
<rect x="71" y="213" width="1" height="8"/>
<rect x="73" y="216" width="1" height="25"/>
<rect x="75" y="228" width="1" height="12"/>
<rect x="77" y="227" width="1" height="22"/>
<rect x="79" y="235" width="1" height="5"/>
<rect x="81" y="238" width="1" height="17"/>
<rect x="83" y="245" width="1" height="20"/>
<rect x="85" y="248" width="1" height="14"/>
<rect x="87" y="251" width="1" height="10"/>
<rect x="89" y="249" width="1" height="6"/>
<rect x="91" y="247" width="1" height="5"/>
<rect x="93" y="247" width="1" height="32"/>
<rect x="95" y="267" width="1" height="22"/>
<rect x="97" y="262" width="1" height="19"/>
<rect x="99" y="268" width="1" height="5"/>
<rect x="101" y="241" width="1" height="14"/>
<rect x="103" y="243" width="1" height="8"/>
<rect x="105" y="228" width="1" height="20"/>
<rect x="107" y="220" width="1" height="11"/>
<rect x="109" y="229" width="1" height="22"/>
<rect x="111" y="242" width="1" height="7"/>
<rect x="113" y="242" width="1" height="9"/>
<rect x="115" y="242" width="1" height="6"/>
<rect x="117" y="241" width="1" height="17"/>
<rect x="119" y="231" width="1" height="21"/>
<rect x="121" y="218" width="1" height="21"/>
<rect x="123" y="215" width="1" height="16"/>
<rect x="125" y="216" width="1" height="7"/>
<rect x="127" y="214" width="1" height="8"/>
<rect x="129" y="203" width="1" height="16"/>
<rect x="131" y="195" width="1" height="13"/>
<rect x="133" y="201" width="1" height="17"/>
<rect x="135" y="205" width="1" height="14"/>
<rect x="137" y="201" width="1" height="8"/>
<rect x="139" y="194" width="1" height="10"/>
<rect x="141" y="189" width="1" height="7"/>
<rect x="143" y="180" width="1" height="11"/>
<rect x="145" y="180" width="1" height="16"/>
<rect x="147" y="181" width="1" height="18"/>
<rect x="149" y="188" width="1" height="9"/>
<rect x="151" y="195" width="1" height="9"/>
<rect x="153" y="195" width="1" height="16"/>
<rect x="155" y="197" width="1" height="13"/>
<rect x="157" y="202" width="1" height="13"/>
<rect x="159" y="205" width="1" height="7"/>
<rect x="161" y="220" width="1" height="18"/>
<rect x="163" y="235" width="1" height="10"/>
<rect x="165" y="237" width="1" height="35"/>
<rect x="167" y="247" width="1" height="31"/>
<rect x="169" y="237" width="1" height="17"/>
<rect x="171" y="208" width="1" height="33"/>
<rect x="173" y="214" width="1" height="16"/>
<rect x="175" y="225" width="1" height="10"/>
<rect x="177" y="218" width="1" height="16"/>
<rect x="179" y="219" width="1" height="20"/>
<rect x="181" y="228" width="1" height="24"/>
<rect x="183" y="235" width="1" height="10"/>
<rect x="185" y="230" width="1" height="11"/>
<rect x="187" y="228" width="1" height="6"/>
<rect x="189" y="220" width="1" height="11"/>
<rect x="191" y="213" width="1" height="18"/>
<rect x="193" y="192" width="1" height="27"/>
<rect x="195" y="204" width="1" height="11"/>
<rect x="197" y="197" width="1" height="14"/>
<rect x="199" y="194" width="1" height="7"/>
<rect x="201" y="184" width="1" height="15"/>
<rect x="203" y="181" width="1" height="16"/>
<rect x="205" y="182" width="1" height="22"/>
<rect x="207" y="199" width="1" height="3"/>
<rect x="209" y="191" width="1" height="10"/>
<rect x="211" y="191" width="1" height="7"/>
<rect x="213" y="191" width="1" height="8"/>
<rect x="215" y="196" width="1" height="19"/>
<rect x="217" y="200" width="1" height="24"/>
<rect x="219" y="216" width="1" height="6"/>
<rect x="221" y="211" width="1" height="10"/>
<rect x="223" y="209" width="1" height="7"/>
<rect x="225" y="203" width="1" height="13"/>
<rect x="227" y="205" width="1" height="10"/>
<rect x="229" y="203" width="1" height="13"/>
<rect x="231" y="205" width="1" height="8"/>
<rect x="233" y="198" width="1" height="12"/>
<rect x="235" y="195" width="1" height="6"/>
<rect x="237" y="190" width="1" height="12"/>
<rect x="239" y="182" width="1" height="10"/>
<rect x="241" y="181" width="1" height="11"/>
<rect x="243" y="180" width="1" height="7"/>
<rect x="245" y="175" width="1" height="11"/>
<rect x="247" y="174" width="1" height="12"/>
<rect x="249" y="170" width="1" height="11"/>
<rect x="251" y="166" width="1" height="14"/>
<rect x="253" y="168" width="1" height="12" fill="#000"/>
<rect x="255" y="172" width="1" height="3"/>
<rect x="257" y="165" width="1" height="11"/>
<rect x="259" y="164" width="1" height="7"/>
<rect x="261" y="163" width="1" height="9"/>
<rect x="263" y="162" width="1" height="21"/>
<rect x="265" y="178" width="1" height="21"/>
<rect x="267" y="190" width="1" height="6"/>
<rect x="269" y="190" width="1" height="5"/>
<rect x="271" y="185" width="1" height="9"/>
<rect x="273" y="183" width="1" height="13"/>
<rect x="275" y="184" width="1" height="12"/>
<rect x="277" y="176" width="1" height="19"/>
<rect x="279" y="178" width="1" height="6"/>
<rect x="281" y="175" width="1" height="12"/>
<rect x="283" y="182" width="1" height="6"/>
<rect x="285" y="172" width="1" height="12"/>
<rect x="287" y="170" width="1" height="24"/>
<rect x="289" y="184" width="1" height="17"/>
<rect x="291" y="180" width="1" height="6"/>
<rect x="293" y="178" width="1" height="9"/>
<rect x="295" y="181" width="1" height="12"/>
<rect x="297" y="180" width="1" height="13"/>
<rect x="299" y="183" width="1" height="13"/>
<rect x="301" y="185" width="1" height="16"/>
<rect x="303" y="191" width="1" height="7"/>
<rect x="305" y="192" width="1" height="8"/>
<rect x="307" y="192" width="1" height="6"/>
<rect x="309" y="185" width="1" height="11"/>
<rect x="311" y="180" width="1" height="12"/>
<rect x="313" y="178" width="1" height="20"/>
<rect x="315" y="190" width="1" height="9"/>
<rect x="317" y="193" width="1" height="15"/>
<rect x="319" y="204" width="1" height="7"/>
<rect x="321" y="204" width="1" height="8"/>
<rect x="323" y="207" width="1" height="11"/>
<rect x="325" y="201" width="1" height="19"/>
<rect x="327" y="200" width="1" height="6"/>
<rect x="329" y="200" width="1" height="8"/>
<rect x="331" y="198" width="1" height="7"/>
<rect x="333" y="184" width="1" height="16"/>
<rect x="335" y="184" width="1" height="7"/>
<rect x="337" y="177" width="1" height="14"/>
<rect x="339" y="170" width="1" height="12"/>
<rect x="341" y="167" width="1" height="6"/>
<rect x="343" y="165" width="1" height="5"/>
<rect x="345" y="163" width="1" height="10"/>
<rect x="347" y="165" width="1" height="10"/>
<rect x="349" y="167" width="1" height="17"/>
<rect x="351" y="174" width="1" height="7"/>
<rect x="353" y="173" width="1" height="7"/>
<rect x="355" y="174" width="1" height="9"/>
<rect x="357" y="168" width="1" height="12"/>
<rect x="359" y="172" width="1" height="9"/>
<rect x="361" y="161" width="1" height="20"/>
<rect x="363" y="163" width="1" height="8"/>
<rect x="365" y="164" width="1" height="4"/>
<rect x="367" y="165" width="1" height="6"/>
<rect x="369" y="168" width="1" height="10"/>
<rect x="371" y="172" width="1" height="12"/>
<rect x="373" y="182" width="1" height="11"/>
<rect x="375" y="184" width="1" height="8"/>
<rect x="377" y="186" width="1" height="8"/>
<rect x="379" y="188" width="1" height="7"/>
<rect x="381" y="191" width="1" height="13"/>
<rect x="383" y="195" width="1" height="7"/>
<rect x="385" y="188" width="1" height="11"/>
<rect x="387" y="188" width="1" height="3"/>
<rect x="389" y="183" width="1" height="9"/>
<rect x="391" y="182" width="1" height="4"/>
<rect x="393" y="183" width="1" height="7"/>
<rect x="395" y="180" width="1" height="6"/>
<rect x="397" y="179" width="1" height="8"/>
<rect x="399" y="177" width="1" height="5"/>
<rect x="401" y="174" width="1" height="7"/>
<rect x="403" y="172" width="1" height="4"/>
<rect x="405" y="164" width="1" height="10"/>
<rect x="407" y="159" width="1" height="14"/>
<rect x="409" y="169" width="1" height="12"/>
<rect x="411" y="172" width="1" height="7"/>
<rect x="413" y="167" width="1" height="8"/>
<rect x="415" y="165" width="1" height="6"/>
<rect x="417" y="154" width="1" height="12"/>
<rect x="419" y="153" width="1" height="9"/>
<rect x="421" y="154" width="1" height="9"/>
<rect x="423" y="155" width="1" height="9"/>
<rect x="425" y="155" width="1" height="6"/>
<rect x="427" y="158" width="1" height="5"/>
<rect x="429" y="162" width="1" height="12"/>
<rect x="431" y="168" width="1" height="10"/>
<rect x="433" y="167" width="1" height="11"/>
<rect x="435" y="165" width="1" height="4"/>
<rect x="437" y="165" width="1" height="5" fill="#000"/>
<rect x="439" y="160" width="1" height="8"/>
<rect x="441" y="158" width="1" height="14"/>
<rect x="443" y="163" width="1" height="8"/>
<rect x="445" y="165" width="1" height="9"/>
<rect x="447" y="168" width="1" height="4"/>
<rect x="449" y="168" width="1" height="5"/>
<rect x="451" y="168" width="1" height="8"/>
<rect x="453" y="171" width="1" height="13"/>
<rect x="455" y="160" width="1" height="17"/>
<rect x="457" y="153" width="1" height="9"/>
<rect x="459" y="152" width="1" height="6"/>
<rect x="461" y="152" width="1" height="6"/>
<rect x="463" y="153" width="1" height="6"/>
<rect x="465" y="150" width="1" height="10"/>
<rect x="467" y="153" width="1" height="15"/>
<rect x="469" y="160" width="1" height="12"/>
<rect x="471" y="157" width="1" height="11"/>
<rect x="473" y="165" width="1" height="9"/>
<rect x="475" y="168" width="1" height="5"/>
<rect x="477" y="169" width="1" height="11"/>
<rect x="479" y="167" width="1" height="11"/>
<rect x="481" y="156" width="1" height="12"/>
<rect x="483" y="153" width="1" height="5"/>
<rect x="485" y="156" width="1" height="6"/>
<rect x="487" y="159" width="1" height="6"/>
<rect x="489" y="159" width="1" height="15"/>
<rect x="491" y="152" width="1" height="22"/>
<rect x="493" y="152" width="1" height="12"/>
<rect x="495" y="159" width="1" height="6"/>
<rect x="497" y="157" width="1" height="9"/>
<rect x="499" y="151" width="1" height="9"/>
<rect x="501" y="151" width="1" height="10"/>
<rect x="503" y="157" width="1" height="11"/>
<rect x="505" y="164" width="1" height="10"/>
<rect x="507" y="166" width="1" height="8"/>
<rect x="509" y="164" width="1" height="9"/>
<rect x="511" y="164" width="1" height="4"/>
<rect x="513" y="161" width="1" height="10"/>
<rect x="515" y="165" width="1" height="9"/>
<rect x="517" y="172" width="1" height="12"/>
<rect x="519" y="170" width="1" height="6"/>
<rect x="521" y="168" width="1" height="6"/>
<rect x="523" y="167" width="1" height="6"/>
<rect x="525" y="168" width="1" height="10"/>
<rect x="527" y="174" width="1" height="8"/>
<rect x="529" y="170" width="1" height="8"/>
<rect x="531" y="173" width="1" height="6"/>
<rect x="533" y="174" width="1" height="4"/>
<rect x="535" y="176" width="1" height="10"/>
<rect x="537" y="183" width="1" height="10"/>
<rect x="539" y="164" width="1" height="29"/>
<rect x="541" y="166" width="1" height="8"/>
<rect x="543" y="168" width="1" height="7"/>
<rect x="545" y="166" width="1" height="7"/>
<rect x="547" y="166" width="1" height="6"/>
<rect x="549" y="161" width="1" height="10"/>
<rect x="551" y="159" width="1" height="10"/>
<rect x="553" y="154" width="1" height="10"/>
<rect x="555" y="155" width="1" height="5"/>
<rect x="557" y="154" width="1" height="5"/>
<rect x="559" y="156" width="1" height="3"/>
<rect x="561" y="154" width="1" height="10"/>
<rect x="563" y="161" width="1" height="8"/>
<rect x="565" y="152" width="1" height="14"/>
<rect x="567" y="153" width="1" height="5"/>
<rect x="569" y="150" width="1" height="7"/>
<rect x="571" y="145" width="1" height="7"/>
<rect x="573" y="144" width="1" height="6"/>
<rect x="575" y="144" width="1" height="7"/>
<rect x="577" y="141" width="1" height="7"/>
<rect x="579" y="136" width="1" height="8"/>
<rect x="581" y="136" width="1" height="6"/>
<rect x="583" y="135" width="1" height="3"/>
<rect x="585" y="129" width="1" height="11"/>
<rect x="587" y="130" width="1" height="6"/>
<rect x="589" y="126" width="1" height="8"/>
<rect x="591" y="129" width="1" height="7"/>
<rect x="593" y="133" width="1" height="5"/>
<rect x="595" y="130" width="1" height="6"/>
<rect x="597" y="128" width="1" height="11"/>
<rect x="599" y="131" width="1" height="7"/>
<rect x="601" y="133" width="1" height="9"/>
<rect x="603" y="137" width="1" height="4"/>
<rect x="605" y="137" width="1" height="4"/>
<rect x="607" y="141" width="1" height="4"/>
<rect x="609" y="140" width="1" height="7"/>
<rect x="611" y="139" width="1" height="8"/>
<rect x="613" y="128" width="1" height="15"/>
<rect x="615" y="127" width="1" height="5"/>
<rect x="617" y="121" width="1" height="10"/>
<rect x="619" y="118" width="1" height="6"/>
<rect x="621" y="116" width="1" height="6"/>
<rect x="623" y="116" width="1" height="5"/>
<rect x="625" y="115" width="1" height="6"/>
<rect x="627" y="116" width="1" height="4"/>
<rect x="629" y="109" width="1" height="11"/>
<rect x="631" y="107" width="1" height="7"/>
<rect x="633" y="110" width="1" height="8"/>
<rect x="635" y="110" width="1" height="14"/>
<rect x="637" y="111" width="1" height="16"/>
<rect x="639" y="114" width="1" height="6"/>
<rect x="641" y="117" width="1" height="11"/>
<rect x="643" y="119" width="1" height="7"/>
<rect x="645" y="118" width="1" height="8"/>
<rect x="647" y="122" width="1" height="9"/>
<rect x="649" y="127" width="1" height="8"/>
<rect x="651" y="126" width="1" height="4"/>
<rect x="653" y="124" width="1" height="5"/>
<rect x="655" y="128" width="1" height="4"/>
<rect x="657" y="113" width="1" height="20"/>
<rect x="659" y="100" width="1" height="15"/>
<rect x="661" y="101" width="1" height="13"/>
<rect x="663" y="101" width="1" height="5"/>
<rect x="665" y="102" width="1" height="4"/>
<rect x="667" y="102" width="1" height="7"/>
<rect x="669" y="95" width="1" height="10"/>
<rect x="671" y="89" width="1" height="13"/>
<rect x="673" y="90" width="1" height="5"/>
<rect x="675" y="92" width="1" height="5"/>
<rect x="677" y="85" width="1" height="11"/>
<rect x="679" y="89" width="1" height="6"/>
<rect x="681" y="91" width="1" height="11"/>
<rect x="683" y="86" width="1" height="9"/>
<rect x="685" y="78" width="1" height="14"/>
<rect x="687" y="78" width="1" height="5"/>
<rect x="689" y="78" width="1" height="6"/>
<rect x="691" y="78" width="1" height="4"/>
<rect x="693" y="75" width="1" height="10"/>
<rect x="695" y="75" width="1" height="7"/>
<rect x="697" y="71" width="1" height="15"/>
<rect x="699" y="71" width="1" height="5"/>
<rect x="701" y="43" width="1" height="31"/>
<rect x="703" y="57" width="1" height="7"/>
<rect x="705" y="51" width="1" height="12"/>
<rect x="707" y="60" width="1" height="16"/>
<rect x="709" y="68" width="1" height="11"/>
<rect x="711" y="64" width="1" height="11"/>
<rect x="713" y="63" width="1" height="6"/>
<rect x="715" y="59" width="1" height="11"/>
<rect x="717" y="58" width="1" height="13"/>
<rect x="719" y="58" width="1" height="12"/>
<rect x="721" y="56" width="1" height="30"/>
<rect x="723" y="82" width="1" height="16"/>
<rect x="725" y="91" width="1" height="18"/>
<rect x="727" y="92" width="1" height="18"/>
<rect x="729" y="105" width="1" height="15"/>
<rect x="731" y="104" width="1" height="19"/>
<rect x="733" y="100" width="1" height="17"/>
<rect x="735" y="106" width="1" height="9"/>
<rect x="737" y="97" width="1" height="16"/>
<rect x="739" y="98" width="1" height="8"/>
<rect x="741" y="97" width="1" height="5"/>
</g>
<path d="M3.50 247.50 L6.00 245.60 L12.50 245.25 L21.00 244.00 L29.00 240.00 L36.00 236.50 L41.00 235.25 L45.00 235.60 L55.00 237.25 L67.50 236.90 L75.00 235.60 L82.50 236.90 L90.00 238.50 L100.00 243.60 L110.00 242.50 L120.00 242.75 L130.00 238.00 L137.50 234.40 L150.00 224.40 L156.00 222.50 L162.00 222.50 L165.00 225.60 L170.00 226.50 L180.00 226.50 L182.50 227.50 L191.00 227.25 L195.00 226.25 L200.00 223.90 L205.00 220.60 L212.50 217.50 L221.00 217.25 L231.00 216.25 L236.00 213.50 L241.00 212.10 L246.00 208.75 L252.50 205.60 L257.50 202.25 L262.50 199.60 L267.50 199.10 L275.00 198.10 L280.00 196.50 L287.50 195.00 L292.50 193.50 L300.00 193.45 L310.00 193.10 L316.00 192.50 L324.00 195.25 L330.00 196.50 L337.50 195.00 L346.00 190.60 L355.00 188.75 L360.00 187.75 L365.00 185.60 L370.00 184.00 L374.00 184.10 L377.50 185.60 L382.50 186.50 L390.00 186.50 L397.50 186.25 L400.00 185.60 L406.00 183.75 L416.00 181.25 L426.00 177.50 L432.50 177.25 L441.00 175.25 L452.50 174.40 L459.00 173.10 L462.50 171.25 L469.00 170.25 L480.00 170.25 L490.00 168.75 L500.00 167.20 L522.50 167.50 L531.00 169.00 L539.00 170.25 L550.00 169.75 L560.00 167.75 L569.00 166.00 L577.50 162.50 L590.00 156.50 L600.00 153.30 L611.00 151.25 L622.50 145.00 L634.00 139.75 L642.50 137.50 L650.00 135.60 L655.00 135.00 L662.50 131.25 L671.00 127.50 L675.00 124.40 L684.00 120.60 L692.50 113.75 L700.00 108.60 L706.75 103.25 L713.50 100.25 L716.50 97.40 L720.25 95.50 L726.25 95.50 L727.75 96.30 L732.25 96.30 L733.75 97.40 L736.75 97.60 L738.25 98.40 L741.50 98.40" fill="none" stroke="#ff0000" stroke-width="1.2" stroke-linejoin="round"/>
<defs><clipPath id="mainclip"><rect x="3" y="3" width="751" height="320"/></clipPath></defs>
<g clip-path="url(#mainclip)">
<g shape-rendering="crispEdges"><rect x="-14.5" y="193.5" width="42" height="12" fill="#fff" stroke="#00008b"/>
<rect x="28" y="199" width="10" height="1" fill="#00008b"/></g>
<text x="-12.7" y="204" font-size="11" fill="#00008b" textLength="39" lengthAdjust="spacingAndGlyphs">1.35390</text>
</g>
<g>
<g shape-rendering="crispEdges"><rect x="43.5" y="283.5" width="42" height="12" fill="#fff" stroke="#00008b"/>
<rect x="86" y="289" width="10" height="1" fill="#00008b"/></g>
<text x="45.3" y="294" font-size="11" fill="#00008b" textLength="39" lengthAdjust="spacingAndGlyphs">1.31340</text>
</g>
<g>
<g shape-rendering="crispEdges"><rect x="413.5" y="144.5" width="42" height="12" fill="#fff" stroke="#00008b"/>
<rect x="456" y="150" width="10" height="1" fill="#00008b"/></g>
<text x="415.3" y="155" font-size="11" fill="#00008b" textLength="39" lengthAdjust="spacingAndGlyphs">1.37580</text>
</g>
<g>
<g shape-rendering="crispEdges"><rect x="487.5" y="187.5" width="42" height="12" fill="#fff" stroke="#00008b"/>
<rect x="530" y="193" width="10" height="1" fill="#00008b"/></g>
<text x="489.3" y="198" font-size="11" fill="#00008b" textLength="39" lengthAdjust="spacingAndGlyphs">1.35640</text>
</g>
<g>
<g shape-rendering="crispEdges"><rect x="649.5" y="37.5" width="42" height="12" fill="#fff" stroke="#00008b"/>
<rect x="692" y="43" width="10" height="1" fill="#00008b"/></g>
<text x="651.3" y="48" font-size="11" fill="#00008b" textLength="39" lengthAdjust="spacingAndGlyphs">1.42400</text>
</g>
<g shape-rendering="crispEdges" fill="#000"><rect x="6" y="9" width="7" height="1"/><rect x="7" y="10" width="5" height="1"/><rect x="8" y="11" width="3" height="1"/><rect x="9" y="12" width="1" height="1"/></g>
<text x="18.3" y="13.8" font-size="10.1" stroke="#000" stroke-width="0.1" fill="#000" textLength="53.8" lengthAdjust="spacingAndGlyphs">GBPUSD,H4</text>
<text x="78.4" y="13.8" font-size="10.1" stroke="#000" stroke-width="0.1" fill="#000" textLength="32.8" lengthAdjust="spacingAndGlyphs">1.39825</text>
<text x="114.4" y="13.8" font-size="10.1" stroke="#000" stroke-width="0.1" fill="#000" textLength="32.8" lengthAdjust="spacingAndGlyphs">1.39970</text>
<text x="150.4" y="13.8" font-size="10.1" stroke="#000" stroke-width="0.1" fill="#000" textLength="32.8" lengthAdjust="spacingAndGlyphs">1.39791</text>
<text x="186.4" y="13.8" font-size="10.1" stroke="#000" stroke-width="0.1" fill="#000" textLength="32.8" lengthAdjust="spacingAndGlyphs">1.39920</text>
<text x="7.5" y="338" font-size="10.1" stroke="#000" stroke-width="0.1" fill="#000" textLength="66" lengthAdjust="spacingAndGlyphs">MACD(12,26,9)</text>
<text x="76.8" y="338" font-size="10.1" stroke="#000" stroke-width="0.1" fill="#000" textLength="40" lengthAdjust="spacingAndGlyphs">-0.002380</text>
<text x="120.5" y="338" font-size="10.1" stroke="#000" stroke-width="0.1" fill="#000" textLength="40.6" lengthAdjust="spacingAndGlyphs">-0.001392</text>
<text x="7.5" y="466" font-size="10.1" stroke="#000" stroke-width="0.1" fill="#000" textLength="31.2" lengthAdjust="spacingAndGlyphs">RSI(14)</text>
<text x="41.8" y="466" font-size="10.1" stroke="#000" stroke-width="0.1" fill="#000" textLength="33.6" lengthAdjust="spacingAndGlyphs">45.3464</text>
<path d="M2.70 396.51 L5.63 392.46 L9.00 389.31 L15.75 389.31 L22.50 390.21 L29.25 385.26 L36.01 376.26 L40.51 370.63 L43.88 369.96 L47.26 374.01 L51.76 385.26 L57.38 398.76 L61.88 407.31 L66.39 410.01 L72.01 407.76 L78.76 403.71 L84.39 403.71 L88.89 410.01 L93.39 419.02 L99.02 429.14 L103.52 433.64 L109.14 431.39 L113.64 423.52 L119.27 410.01 L126.02 394.26 L132.77 376.26 L139.52 360.51 L146.27 347.00 L150.00 341.38 L154.50 340.70 L158.55 343.63 L162.38 351.50 L165.75 365.01 L169.13 380.76 L172.50 396.51 L175.88 408.89 L179.25 416.77 L182.63 420.14 L187.13 420.82 L191.63 419.02 L196.13 413.39 L200.63 403.26 L205.13 387.51 L209.63 374.01 L213.01 367.26 L215.71 365.46 L219.76 368.38 L224.26 375.13 L228.76 383.01 L233.26 387.96 L236.64 389.31 L240.01 387.96 L244.51 383.01 L249.02 375.13 L253.52 366.13 L258.02 358.26 L261.39 354.88 L264.77 354.21 L268.14 357.13 L272.64 365.01 L277.14 375.13 L281.65 383.01 L286.15 387.06 L290.65 388.64 L296.27 389.76 L300.00 392.01 L304.50 396.51 L310.13 401.01 L315.75 405.06 L321.38 410.01 L327.00 415.64 L331.50 419.47 L336.01 419.02 L340.51 412.26 L345.01 398.76 L349.51 385.26 L354.01 377.38 L358.51 374.01 L364.14 373.56 L369.76 375.13 L375.39 380.76 L381.01 392.01 L386.64 403.26 L392.26 408.89 L396.77 410.46 L401.27 408.89 L406.89 402.14 L412.52 394.26 L419.27 386.39 L426.02 378.51 L430.52 375.13 L435.02 375.13 L440.65 378.51 L446.27 384.14 L450.00 387.06 L454.50 390.21 L459.00 391.56 L464.63 389.31 L470.25 386.39 L474.75 386.84 L479.25 389.76 L484.88 393.14 L490.51 394.71 L497.26 394.71 L504.01 393.81 L509.63 394.71 L515.26 398.31 L522.01 404.39 L528.76 408.89 L535.51 412.26 L540.01 415.64 L544.51 415.64 L550.14 412.26 L554.64 406.64 L559.14 398.76 L564.77 392.01 L571.52 385.26 L578.27 378.51 L585.02 370.63 L590.65 364.56 L595.15 361.63 L598.52 360.51 L600.00 360.51 L603.38 361.63 L607.88 366.13 L613.50 372.88 L619.13 376.26 L624.75 375.13 L630.38 369.51 L634.88 363.88 L639.38 362.76 L643.88 364.56 L648.38 369.96 L652.88 377.38 L657.38 384.14 L661.88 385.71 L666.39 384.14 L670.89 377.38 L676.51 368.38 L682.14 361.63 L687.76 357.13 L693.39 353.76 L699.02 351.50 L704.64 348.80 L710.27 347.00 L715.89 346.33 L720.39 347.00 L723.77 352.63 L727.14 360.51 L730.52 371.76 L733.90 385.26 L737.27 399.89 L739.97 410.01 L741.77 414.51" fill="none" stroke="#b8b8b8" stroke-width="1"/>
<path d="M2.70 386.39 L4.50 383.01 L6.75 381.21 L8.55 384.14 L10.80 391.56 L13.50 394.26 L18.00 394.26 L21.38 390.89 L23.63 381.88 L25.20 376.26 L28.13 372.88 L31.50 371.76 L33.76 367.26 L36.68 364.56 L39.38 368.38 L41.63 374.01 L43.88 379.63 L45.01 387.51 L46.13 396.51 L48.38 402.81 L51.31 404.39 L55.13 408.89 L59.63 412.26 L65.26 412.26 L67.51 408.89 L69.31 402.14 L70.89 397.64 L73.81 397.64 L77.64 400.56 L79.89 405.06 L83.26 413.39 L86.64 420.14 L90.01 423.52 L91.81 425.77 L93.39 434.77 L95.64 441.52 L99.02 444.44 L101.27 439.27 L103.52 430.27 L105.32 419.02 L106.89 411.14 L110.27 407.31 L114.77 404.39 L117.47 403.26 L119.72 396.51 L122.64 385.26 L126.02 376.26 L129.40 365.01 L131.65 358.26 L135.02 354.88 L138.40 348.13 L141.77 340.25 L145.15 334.63 L147.40 332.38 L150.00 336.88 L152.25 344.75 L155.63 353.76 L159.00 362.76 L160.80 371.76 L162.38 385.26 L163.95 398.76 L165.30 410.01 L166.88 420.14 L168.68 426.89 L170.70 420.14 L174.75 419.47 L178.80 419.02 L181.50 421.72 L184.88 423.07 L187.81 420.14 L190.51 412.26 L193.88 401.01 L196.81 389.76 L199.51 376.26 L202.21 365.01 L204.01 363.43 L208.96 363.43 L211.21 361.63 L213.46 362.76 L215.26 368.38 L217.51 377.38 L220.21 385.26 L224.26 389.76 L227.64 392.01 L231.01 392.46 L234.39 388.64 L237.76 380.76 L241.81 371.76 L245.64 363.88 L249.02 358.26 L252.39 354.88 L255.77 353.31 L258.47 350.38 L260.72 349.70 L262.52 353.76 L264.32 361.63 L266.57 370.63 L269.27 378.51 L272.64 384.14 L274.89 388.64 L278.27 386.84 L283.90 386.39 L287.27 390.21 L291.77 392.01 L295.15 393.14 L298.52 396.51 L300.00 398.76 L302.70 403.26 L305.63 407.31 L308.55 407.76 L311.25 403.26 L313.95 404.39 L316.88 411.14 L320.25 420.14 L323.18 425.32 L328.13 425.77 L330.38 422.39 L333.31 414.51 L336.01 406.64 L338.71 394.26 L341.63 381.88 L344.33 375.13 L346.81 371.31 L349.96 372.88 L354.01 374.68 L357.38 376.26 L359.63 378.06 L362.56 374.46 L366.39 373.56 L368.64 376.26 L371.56 384.14 L374.71 392.01 L377.64 398.76 L379.89 406.64 L382.81 412.26 L386.64 413.84 L390.01 411.14 L394.51 406.64 L399.02 402.14 L402.39 397.64 L404.64 392.01 L406.89 387.06 L412.07 386.39 L414.77 383.01 L417.47 377.38 L420.39 374.01 L423.77 371.31 L427.14 371.31 L429.40 377.38 L432.32 383.01 L436.15 384.81 L439.52 384.14 L442.90 387.51 L447.40 390.89 L450.00 393.14 L453.38 396.96 L456.75 390.89 L460.13 386.39 L463.50 381.88 L466.20 381.88 L469.13 385.26 L472.50 389.76 L475.20 395.39 L478.13 398.76 L480.38 398.76 L483.76 394.26 L487.13 394.26 L490.06 396.51 L492.76 393.81 L496.13 394.26 L499.51 391.56 L501.76 392.01 L504.01 396.51 L506.71 401.01 L510.76 402.81 L514.14 405.06 L517.51 408.44 L522.46 408.89 L525.39 411.81 L528.76 412.71 L532.14 414.51 L535.06 417.22 L537.31 422.39 L539.56 417.89 L542.26 413.39 L545.64 407.76 L549.02 402.14 L552.39 395.39 L555.32 389.76 L558.47 385.94 L561.39 385.94 L563.64 387.51 L565.89 385.26 L568.14 384.14 L571.52 378.06 L574.89 373.56 L578.27 369.51 L581.65 365.01 L585.02 361.63 L588.40 358.26 L591.32 358.26 L594.02 360.06 L597.40 361.63 L600.00 362.76 L602.70 368.38 L605.63 374.01 L608.55 379.63 L611.25 383.01 L614.63 378.96 L618.00 372.88 L621.38 368.38 L624.75 366.13 L628.13 363.21 L631.05 360.51 L633.31 360.06 L635.56 363.88 L638.71 367.26 L641.63 371.76 L645.01 377.38 L647.71 384.14 L650.63 388.64 L653.56 391.56 L655.36 392.46 L657.38 387.51 L659.63 380.76 L663.01 375.13 L666.39 371.31 L669.76 366.13 L673.14 360.06 L676.51 357.13 L679.21 356.01 L682.14 357.13 L685.06 353.31 L688.21 351.05 L691.81 349.25 L694.96 349.25 L697.89 349.70 L700.82 344.30 L703.52 340.25 L705.77 340.70 L708.02 345.88 L710.72 349.25 L713.64 351.50 L716.57 351.05 L718.82 352.63 L721.07 360.51 L723.32 371.76 L725.57 385.26 L727.82 398.76 L730.07 408.89 L732.77 419.02 L735.02 427.57 L738.40 427.57 L741.77 426.89" fill="none" stroke="#00008b" stroke-width="2" stroke-linejoin="round"/>
<path d="M2.70 501.31 L4.95 503.56 L7.20 502.88 L9.00 515.26 L11.25 528.31 L13.05 518.64 L15.30 515.26 L17.55 514.14 L20.70 508.51 L22.50 501.76 L25.20 495.46 L27.45 502.88 L31.50 503.56 L34.88 496.81 L37.13 505.13 L39.38 511.88 L42.31 515.26 L43.88 524.26 L45.46 538.21 L47.71 527.64 L50.63 519.76 L53.56 522.46 L58.06 523.36 L63.01 520.89 L67.06 517.06 L69.31 506.26 L71.11 502.43 L73.14 517.51 L75.39 514.14 L78.31 519.76 L80.56 525.39 L82.81 530.56 L85.51 526.51 L88.21 528.31 L91.14 524.26 L92.94 533.26 L95.19 540.46 L97.89 532.14 L100.14 526.51 L101.72 517.51 L103.52 514.14 L105.77 506.26 L108.02 509.63 L109.82 516.39 L112.52 517.06 L115.22 515.26 L117.47 519.31 L119.72 508.51 L122.64 502.21 L124.89 504.01 L127.82 499.51 L130.52 495.01 L133.22 505.13 L136.15 500.63 L140.65 495.01 L144.02 492.31 L145.82 492.76 L148.52 501.76 L150.00 505.13 L153.38 514.14 L155.63 511.21 L159.00 514.14 L161.25 527.64 L163.50 533.26 L165.30 544.51 L167.55 528.76 L169.80 522.01 L171.38 514.81 L174.30 520.89 L177.00 517.51 L179.25 520.21 L181.95 524.71 L185.56 520.21 L189.38 516.39 L192.76 509.63 L196.13 505.81 L199.06 500.63 L201.76 496.13 L203.56 499.06 L205.81 507.38 L208.06 508.51 L211.21 503.56 L214.14 509.63 L216.39 519.76 L218.64 523.14 L222.01 517.51 L224.26 516.39 L226.06 518.64 L228.31 514.81 L230.56 516.39 L233.71 509.63 L236.64 505.81 L239.56 500.63 L242.26 499.51 L245.64 494.56 L247.89 497.26 L250.14 494.56 L253.07 496.13 L255.77 493.88 L259.14 491.18 L261.39 495.01 L263.64 508.51 L265.44 522.46 L269.27 521.56 L271.52 514.81 L273.32 520.89 L275.57 521.56 L277.82 508.06 L280.07 509.63 L282.32 514.14 L285.02 506.71 L287.27 522.01 L289.97 515.26 L292.90 513.01 L295.82 518.64 L298.52 517.06 L300.00 521.56 L301.80 526.51 L303.38 522.01 L305.63 523.81 L307.88 519.76 L309.45 513.01 L311.25 510.31 L313.05 517.51 L315.30 523.14 L317.55 528.76 L320.25 532.14 L323.18 537.31 L325.20 523.14 L327.00 525.39 L330.38 519.76 L333.31 508.51 L334.88 510.76 L337.13 505.13 L340.06 499.51 L342.76 497.71 L346.13 497.26 L347.93 500.63 L349.51 508.96 L351.76 510.31 L353.56 507.38 L355.81 510.31 L357.38 508.51 L359.18 514.14 L361.21 504.01 L364.14 502.88 L367.06 505.13 L369.31 513.01 L371.56 521.56 L373.81 523.14 L376.06 526.06 L378.31 526.51 L379.89 531.01 L381.46 536.64 L383.71 527.64 L386.64 521.56 L390.01 517.06 L393.39 515.71 L396.77 511.88 L400.14 508.96 L403.07 505.13 L405.32 496.13 L407.57 505.13 L409.37 512.56 L412.07 508.06 L414.77 501.76 L417.47 494.56 L419.72 501.76 L422.64 497.26 L425.57 502.88 L427.82 507.38 L430.07 517.51 L431.65 521.56 L433.22 514.14 L436.82 511.88 L439.07 505.13 L441.32 516.39 L444.02 515.26 L446.72 517.06 L448.52 516.61 L450.00 517.51 L451.80 521.56 L453.38 519.76 L454.95 508.51 L457.20 503.56 L460.13 502.21 L462.38 503.56 L463.95 501.31 L465.75 506.26 L467.33 516.39 L469.13 511.21 L471.38 517.51 L474.30 520.89 L477.00 526.96 L479.25 517.51 L481.50 508.51 L484.21 510.31 L487.13 513.46 L489.38 523.14 L491.63 508.96 L493.88 515.26 L496.13 516.39 L499.51 507.38 L501.76 513.01 L504.01 521.56 L506.71 524.71 L508.96 517.51 L511.21 518.64 L513.46 517.51 L515.71 523.81 L517.51 527.64 L519.76 522.01 L521.56 519.31 L523.81 523.14 L525.61 526.96 L529.21 522.46 L532.14 527.64 L534.39 528.76 L537.31 537.31 L539.34 514.14 L540.46 517.51 L543.39 515.26 L546.77 513.01 L550.14 510.76 L553.07 504.01 L555.77 502.21 L558.47 503.56 L560.72 510.31 L563.19 515.26 L565.22 504.01 L567.47 505.13 L569.72 500.63 L572.64 496.13 L575.57 497.26 L578.72 492.31 L581.65 490.96 L584.57 489.38 L587.27 485.56 L589.52 486.01 L591.77 495.01 L593.57 496.13 L595.15 492.31 L597.40 497.26 L598.97 497.26 L600.00 500.63 L601.80 507.38 L604.05 508.51 L606.75 513.01 L609.45 517.06 L611.70 508.51 L613.05 498.38 L614.63 499.06 L616.88 493.88 L619.80 490.51 L622.50 491.63 L625.20 490.06 L627.45 493.21 L629.70 487.13 L631.50 490.06 L633.31 490.96 L635.56 508.96 L637.36 502.88 L639.38 507.38 L641.63 514.14 L643.88 510.76 L645.68 514.14 L647.71 521.56 L650.63 517.96 L653.56 517.06 L655.36 520.21 L657.38 502.88 L659.63 495.01 L661.88 498.38 L664.14 497.71 L665.71 499.96 L668.64 496.13 L671.56 490.06 L673.81 493.88 L675.39 497.71 L677.64 493.21 L679.89 498.38 L681.46 499.06 L683.71 493.88 L685.51 490.06 L687.76 496.13 L690.01 492.76 L693.39 492.31 L695.64 496.81 L698.57 492.76 L701.27 483.76 L703.52 487.81 L705.32 488.71 L707.57 506.26 L709.82 504.01 L711.39 499.96 L713.64 501.31 L717.02 495.46 L719.27 502.88 L721.07 515.26 L722.64 525.39 L724.89 529.89 L727.14 535.06 L729.40 535.96 L731.65 533.26 L735.02 535.96 L736.82 525.39 L740.65 523.14" fill="none" stroke="#1e90ff" stroke-width="1" stroke-linejoin="round"/>
<text x="760.3" y="27" font-size="10.1" stroke="#000" stroke-width="0.1" fill="#000" textLength="33.4" lengthAdjust="spacingAndGlyphs">1.43300</text>
<text x="760.3" y="60" font-size="10.1" stroke="#000" stroke-width="0.1" fill="#000" textLength="33.4" lengthAdjust="spacingAndGlyphs">1.41820</text>
<text x="760.3" y="93" font-size="10.1" stroke="#000" stroke-width="0.1" fill="#000" textLength="33.4" lengthAdjust="spacingAndGlyphs">1.40340</text>
<text x="760.3" y="126" font-size="10.1" stroke="#000" stroke-width="0.1" fill="#000" textLength="33.4" lengthAdjust="spacingAndGlyphs">1.38860</text>
<text x="760.3" y="159" font-size="10.1" stroke="#000" stroke-width="0.1" fill="#000" textLength="33.4" lengthAdjust="spacingAndGlyphs">1.37380</text>
<text x="760.3" y="192" font-size="10.1" stroke="#000" stroke-width="0.1" fill="#000" textLength="33.4" lengthAdjust="spacingAndGlyphs">1.35860</text>
<text x="760.3" y="225" font-size="10.1" stroke="#000" stroke-width="0.1" fill="#000" textLength="33.4" lengthAdjust="spacingAndGlyphs">1.34380</text>
<text x="760.3" y="258" font-size="10.1" stroke="#000" stroke-width="0.1" fill="#000" textLength="33.4" lengthAdjust="spacingAndGlyphs">1.32900</text>
<text x="760.3" y="291" font-size="10.1" stroke="#000" stroke-width="0.1" fill="#000" textLength="33.4" lengthAdjust="spacingAndGlyphs">1.31420</text>
<text x="760.3" y="324" font-size="10.1" stroke="#000" stroke-width="0.1" fill="#000" textLength="33.4" lengthAdjust="spacingAndGlyphs">1.29940</text>
<g shape-rendering="crispEdges"><rect x="756" y="7" width="41" height="11" fill="#2f4f4f"/><rect x="756" y="130" width="41" height="11" fill="#2f4f4f"/><rect x="756" y="93" width="41" height="11" fill="#000"/></g>
<text x="760.3" y="16.2" font-size="10.1" stroke="#fff" stroke-width="0.1" fill="#fff" textLength="33.4" lengthAdjust="spacingAndGlyphs">1.43760</text>
<text x="760.3" y="139.2" font-size="10.1" stroke="#fff" stroke-width="0.1" fill="#fff" textLength="33.4" lengthAdjust="spacingAndGlyphs">1.38280</text>
<text x="760.3" y="102.2" font-size="10.1" stroke="#fff" stroke-width="0.1" fill="#fff" textLength="33.4" lengthAdjust="spacingAndGlyphs">1.39920</text>
<text x="758" y="336" font-size="10.1" stroke="#000" stroke-width="0.1" fill="#000" textLength="37.6" lengthAdjust="spacingAndGlyphs">0.006956</text>
<text x="758" y="404" font-size="10.1" stroke="#000" stroke-width="0.1" fill="#000" textLength="18.5" lengthAdjust="spacingAndGlyphs">0.00</text>
<text x="758" y="448" font-size="10.1" stroke="#000" stroke-width="0.1" fill="#000" textLength="41" lengthAdjust="spacingAndGlyphs">-0.004736</text>
<text x="758.5" y="464" font-size="10.1" stroke="#000" stroke-width="0.1" fill="#000" textLength="14.5" lengthAdjust="spacingAndGlyphs">100</text>
<text x="757.5" y="496" font-size="10.1" stroke="#000" stroke-width="0.1" fill="#000" textLength="9.6" lengthAdjust="spacingAndGlyphs">70</text>
<text x="757.5" y="545" font-size="10.1" stroke="#000" stroke-width="0.1" fill="#000" textLength="9.6" lengthAdjust="spacingAndGlyphs">30</text>
<text x="757.8" y="576" font-size="10.1" stroke="#000" stroke-width="0.1" fill="#000" textLength="5.4" lengthAdjust="spacingAndGlyphs">0</text>
<text x="2.6" y="592" font-size="10.1" stroke="#000" stroke-width="0.1" fill="#000" textLength="45.5" lengthAdjust="spacingAndGlyphs">1 Dec 2020</text>
<text x="66" y="592" font-size="10.1" stroke="#000" stroke-width="0.1" fill="#000" textLength="50" lengthAdjust="spacingAndGlyphs">9 Dec 04:00</text>
<text x="130" y="592" font-size="10.1" stroke="#000" stroke-width="0.1" fill="#000" textLength="55" lengthAdjust="spacingAndGlyphs">16 Dec 12:00</text>
<text x="194" y="592" font-size="10.1" stroke="#000" stroke-width="0.1" fill="#000" textLength="54.5" lengthAdjust="spacingAndGlyphs">23 Dec 20:00</text>
<text x="258.5" y="592" font-size="10.1" stroke="#000" stroke-width="0.1" fill="#000" textLength="47.5" lengthAdjust="spacingAndGlyphs">4 Jan 04:00</text>
<text x="322.5" y="592" font-size="10.1" stroke="#000" stroke-width="0.1" fill="#000" textLength="52.5" lengthAdjust="spacingAndGlyphs">11 Jan 12:00</text>
<text x="386.5" y="592" font-size="10.1" stroke="#000" stroke-width="0.1" fill="#000" textLength="52" lengthAdjust="spacingAndGlyphs">18 Jan 20:00</text>
<text x="450" y="592" font-size="10.1" stroke="#000" stroke-width="0.1" fill="#000" textLength="53.5" lengthAdjust="spacingAndGlyphs">26 Jan 04:00</text>
<text x="514" y="592" font-size="10.1" stroke="#000" stroke-width="0.1" fill="#000" textLength="49.5" lengthAdjust="spacingAndGlyphs">2 Feb 12:00</text>
<text x="578.5" y="592" font-size="10.1" stroke="#000" stroke-width="0.1" fill="#000" textLength="49" lengthAdjust="spacingAndGlyphs">9 Feb 20:00</text>
<text x="642.5" y="592" font-size="10.1" stroke="#000" stroke-width="0.1" fill="#000" textLength="54" lengthAdjust="spacingAndGlyphs">17 Feb 04:00</text>
<text x="706.5" y="592" font-size="10.1" stroke="#000" stroke-width="0.1" fill="#000" textLength="53.5" lengthAdjust="spacingAndGlyphs">24 Feb 12:00</text>
</svg></body></html>
